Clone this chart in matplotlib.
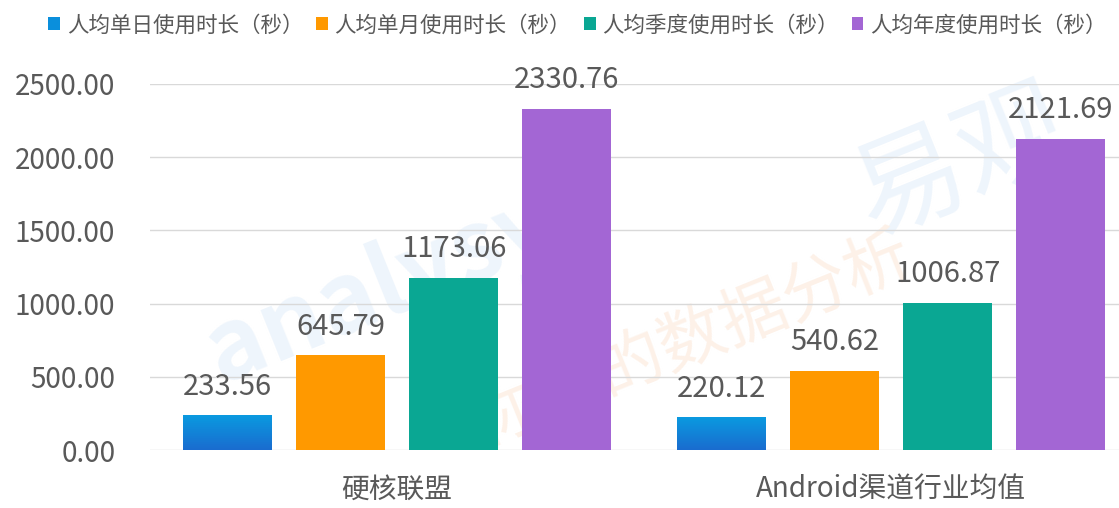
import matplotlib
matplotlib.use("Agg")
import matplotlib.pyplot as plt
import numpy as np
from matplotlib.colors import LinearSegmentedColormap

plt.rcParams['font.family'] = ['Noto Sans CJK SC', 'DejaVu Sans']

categories = ['硬核联盟', 'Android渠道行业均值']
series_names = ['人均单日使用时长（秒）', '人均单月使用时长（秒）',
                '人均季度使用时长（秒）', '人均年度使用时长（秒）']
daily = [233.56, 220.12]
monthly = [645.79, 540.62]
quarterly = [1173.06, 1006.87]
yearly = [2330.76, 2121.69]
yticks = [0, 500, 1000, 1500, 2000, 2500]

colors = ['#0a8fdc', '#ff9900', '#0aa793', '#a366d4']
text_col = '#595959'

fig = plt.figure(figsize=(11.19, 5.08), dpi=100)
ax = fig.add_axes([150 / 1119, 1 - 450 / 508, 969 / 1119, 366 / 508])

# faint watermark, behind the bars
wm = dict(ha='center', va='center', rotation=22, zorder=-1)
fig.text(0.36, 0.45, 'analysys', fontsize=70, color='#eef5fc', fontweight='bold', **wm)
fig.text(0.86, 0.68, '易观', fontsize=80, color='#eef5fc', **wm)
fig.text(0.62, 0.33, '你要的数据分析', fontsize=48, color='#fdf1e8', **wm)

x = np.arange(len(categories))
width = 0.18
step = 0.229
all_vals = [daily, monthly, quarterly, yearly]
for i, (vals, name, c) in enumerate(zip(all_vals, series_names, colors)):
    bars = ax.bar(x + (i - 1.5) * step, vals, width, color=c, label=name, zorder=3)
    if i == 0:
        cmap = LinearSegmentedColormap.from_list('bl', ['#1a6ccf', '#0a9ae0'])
        grad = np.linspace(0, 1, 100).reshape(-1, 1)
        for b in bars:
            ax.imshow(grad, cmap=cmap, origin='lower', aspect='auto', zorder=4,
                      extent=(b.get_x(), b.get_x() + b.get_width(), 0, b.get_height()))
    for xi, v in zip(x + (i - 1.5) * step, vals):
        ax.text(xi, v + 95, f'{v:.2f}', ha='center', va='bottom', fontsize=21,
                color=text_col, zorder=5)

ax.set_xlim(-0.5, 1.5 - 19 / 494)
ax.set_ylim(0, 2500)
ax.set_yticks(yticks)
ax.set_yticklabels([f'{v:.2f}' for v in yticks], fontsize=20, color=text_col)
ax.set_xticks(x)
ax.set_xticklabels(categories, fontsize=20, color=text_col)
ax.tick_params(axis='y', length=0, pad=25)
ax.tick_params(axis='x', length=0, pad=18)
ax.grid(axis='y', color='#d9d9d9', linewidth=1, zorder=0)
for s in ax.spines.values():
    s.set_visible(False)
ax.patch.set_alpha(0)

leg = fig.legend(loc='upper center', bbox_to_anchor=(0.516, 1.01), ncol=4,
                 frameon=False, fontsize=15.5, handlelength=0.55, handleheight=0.55,
                 handletextpad=0.3, columnspacing=0.6)
for t in leg.get_texts():
    t.set_color(text_col)

fig.savefig('out.png', dpi=100)
